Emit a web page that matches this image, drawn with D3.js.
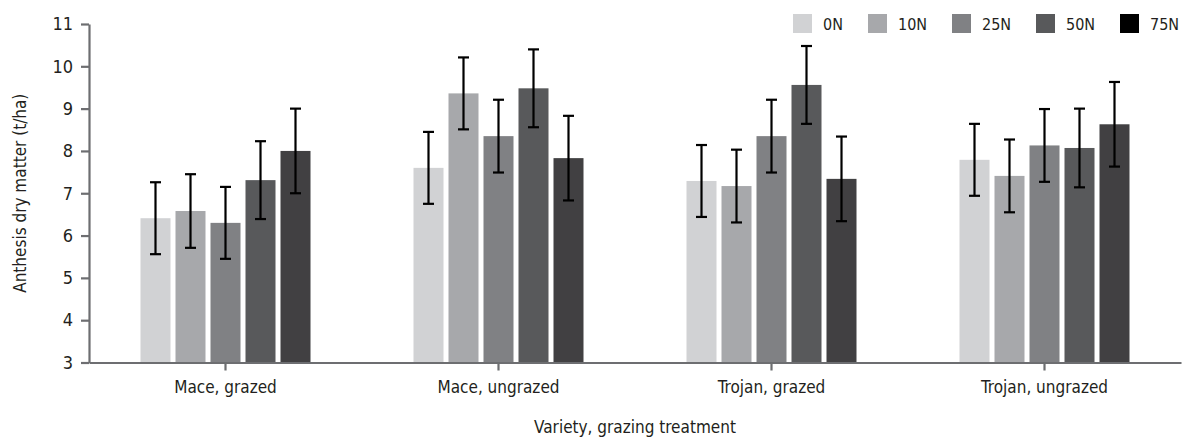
<!DOCTYPE html>
<html>
<head>
<meta charset="utf-8">
<script src="https://d3js.org/d3.v7.min.js"></script>
<style>
  * { margin:0; padding:0; box-sizing:border-box; }
  body { background:#fff; overflow:hidden; font-family:'Liberation Sans Narrow','DejaVu Sans Condensed',Arial,sans-serif; }
  svg { display:block; }
</style>
</head>
<body>
<svg id="chart" width="1184" height="441"></svg>
<script>
// ── Data ─────────────────────────────────────────────────────────────────────
var categories = ["Mace, grazed", "Mace, ungrazed", "Trojan, grazed", "Trojan, ungrazed"];
var series     = ["0N", "10N", "25N", "50N", "75N"];
var barColors  = ["#d1d2d4", "#a7a8ab", "#808184", "#58595b", "#414042"];
var legColors  = ["#d1d2d4", "#a7a8ab", "#808184", "#58595b", "#000000"];
var yTicks     = [3, 4, 5, 6, 7, 8, 9, 10, 11];

// mean per series, one value per category
var means = {
  "0N":  [6.41, 7.60, 7.29, 7.79],
  "10N": [6.58, 9.36, 7.17, 7.41],
  "25N": [6.30, 8.35, 8.35, 8.13],
  "50N": [7.31, 9.48, 9.56, 8.07],
  "75N": [8.00, 7.83, 7.34, 8.63]
};
// half-width of error bar
var errors = {
  "0N":  [0.85, 0.85, 0.85, 0.85],
  "10N": [0.87, 0.85, 0.86, 0.86],
  "25N": [0.85, 0.86, 0.86, 0.86],
  "50N": [0.92, 0.92, 0.92, 0.93],
  "75N": [1.00, 1.00, 1.00, 1.00]
};

// ── Draw ─────────────────────────────────────────────────────────────────────
(function draw() {
  var mLeft = 89, mRight = 1181, mTop = 24, mBottom = 362.5;
  var groupW = 170;
  var axisColor = "#6d6e71", textColor = "#231f20";
  var font = "'Liberation Sans Narrow','DejaVu Sans Condensed',sans-serif";

  var svg = d3.select("#chart");

  var x0 = d3.scaleBand().domain(categories).range([mLeft, mRight]).padding(0);
  var x1 = d3.scaleBand().domain(series)
    .range([(x0.bandwidth() - groupW) / 2, (x0.bandwidth() + groupW) / 2])
    .paddingInner(1 / 7).paddingOuter(0);
  var y = d3.scaleLinear().domain([3, 11]).range([mBottom, mTop]);

  var rows = [];
  categories.forEach(function(c, ci) {
    series.forEach(function(s, si) {
      rows.push({ cat: c, s: s, si: si, v: means[s][ci], e: errors[s][ci] });
    });
  });

  // bars
  svg.append("g").selectAll("rect")
    .data(rows)
    .join("rect")
    .attr("x", function(d) { return x0(d.cat) + x1(d.s); })
    .attr("y", function(d) { return y(d.v); })
    .attr("width", x1.bandwidth())
    .attr("height", function(d) { return y(3) - y(d.v); })
    .attr("fill", function(d) { return barColors[d.si]; });

  // error bars
  var capW = 11;
  var eb = svg.append("g").attr("stroke", "#000").attr("stroke-width", 2.2);
  rows.forEach(function(d) {
    var cx = x0(d.cat) + x1(d.s) + x1.bandwidth() / 2;
    var hi = y(d.v + d.e), lo = y(d.v - d.e);
    eb.append("line").attr("x1", cx).attr("x2", cx).attr("y1", hi).attr("y2", lo);
    eb.append("line").attr("x1", cx - capW / 2).attr("x2", cx + capW / 2).attr("y1", hi).attr("y2", hi);
    eb.append("line").attr("x1", cx - capW / 2).attr("x2", cx + capW / 2).attr("y1", lo).attr("y2", lo);
  });

  // y axis
  var yAxis = svg.append("g")
    .attr("transform", "translate(" + mLeft + ",0)")
    .call(d3.axisLeft(y).tickValues(yTicks).tickSize(8).tickPadding(8).tickSizeOuter(0));
  yAxis.select(".domain").attr("stroke", axisColor).attr("stroke-width", 2.2);
  yAxis.selectAll(".tick line").attr("stroke", axisColor).attr("stroke-width", 2.2);
  yAxis.selectAll("text").attr("fill", textColor).style("font-size", "18px").style("font-family", font);

  // x axis
  var xAxis = svg.append("g")
    .attr("transform", "translate(0," + mBottom + ")")
    .call(d3.axisBottom(x0).tickSize(8).tickPadding(10).tickSizeOuter(0));
  xAxis.select(".domain").attr("stroke", axisColor).attr("stroke-width", 2.2);
  xAxis.selectAll(".tick line").attr("stroke", axisColor).attr("stroke-width", 2.2);
  xAxis.selectAll("text").attr("fill", textColor).style("font-size", "17px").style("font-family", font);

  // axis titles
  svg.append("text")
    .attr("transform", "translate(26," + (mTop + mBottom) / 2 + ") rotate(-90)")
    .attr("text-anchor", "middle")
    .attr("fill", textColor).style("font-size", "17px")
    .text("Anthesis dry matter (t/ha)");

  svg.append("text")
    .attr("x", 635).attr("y", 433)
    .attr("text-anchor", "middle")
    .attr("fill", textColor).style("font-size", "17px")
    .text("Variety, grazing treatment");

  // legend
  var legX = [793, 868, 952, 1036, 1120];
  var leg = svg.append("g");
  series.forEach(function(s, i) {
    leg.append("rect").attr("x", legX[i]).attr("y", 14).attr("width", 19).attr("height", 19).attr("fill", legColors[i]);
    leg.append("text").attr("x", legX[i] + 30).attr("y", 29.5)
      .attr("fill", textColor).style("font-size", "16px").text(s);
  });
})();
</script>
</body>
</html>
